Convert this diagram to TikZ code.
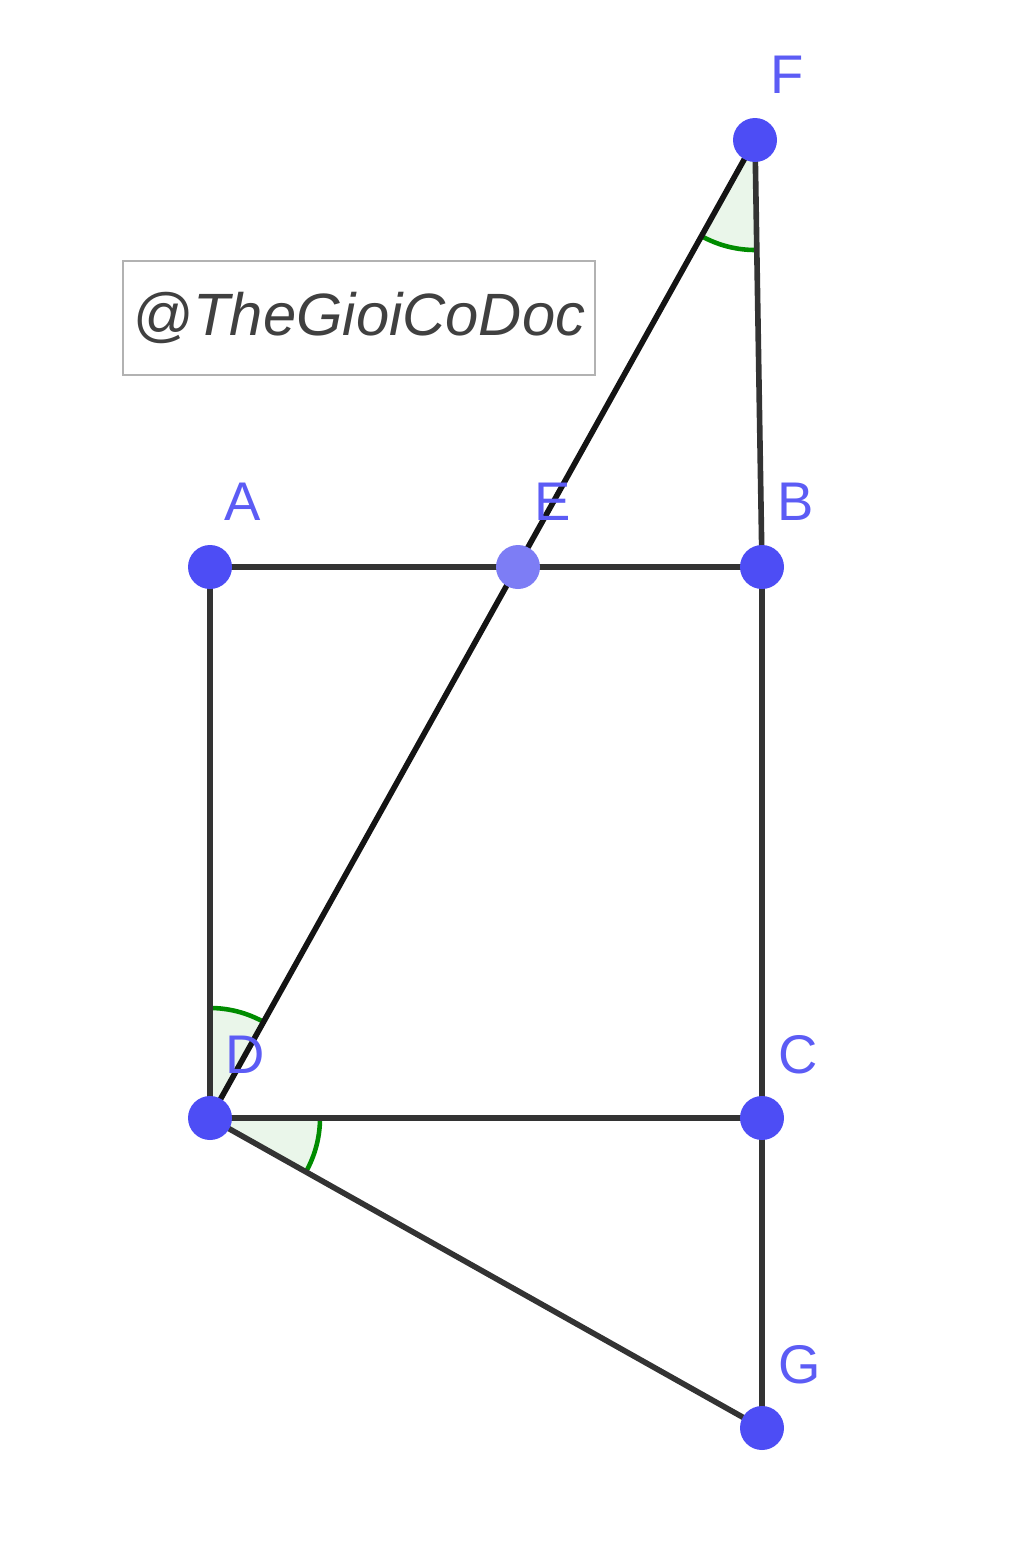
\documentclass[tikz,border=0pt]{standalone}
\usepackage{fontspec}
\setmainfont{Liberation Sans}
\begin{document}
\begin{tikzpicture}[x=0.02cm,y=-0.02cm,
  seg/.style={draw=black!80,line width=3.2pt},
  pt/.style={circle,fill=ptblue,inner sep=0pt,minimum size=0.88cm},
  lbl/.style={text=lblblue,font=\fontsize{31}{31}\selectfont,inner sep=0pt},
  angfill/.style={fill=green!40!gray!12},
  angarc/.style={draw=green!55!black,line width=2.6pt}]
\definecolor{ptblue}{HTML}{4D4DF5}
\definecolor{ptlight}{HTML}{7D7DF5}
\definecolor{lblblue}{HTML}{5C5CF5}
\useasboundingbox (0,0) rectangle (1024,1562);
% coordinates
\coordinate (A) at (210,567);
\coordinate (E) at (518,567);
\coordinate (B) at (762,567);
\coordinate (F) at (755,140);
\coordinate (D) at (210,1118);
\coordinate (C) at (762,1118);
\coordinate (G) at (762,1428);
% angle marks
\fill[angfill] (F) -- ++(119.1:110) arc[start angle=119.1,end angle=89.1,radius=110] -- cycle;
\draw[angarc] (F) ++(119.1:110) arc[start angle=119.1,end angle=89.1,radius=110];
\fill[angfill] (D) -- ++(-90:110) arc[start angle=-90,end angle=-60.9,radius=110] -- cycle;
\draw[angarc] (D) ++(-90:110) arc[start angle=-90,end angle=-60.9,radius=110];
\fill[angfill] (D) -- ++(0:110) arc[start angle=0,end angle=29.3,radius=110] -- cycle;
\draw[angarc] (D) ++(0:110) arc[start angle=0,end angle=29.3,radius=110];
% segments
\draw[seg] (A) -- (B);
\draw[seg] (A) -- (D);
\draw[seg] (D) -- (C);
\draw[seg] (F) -- (B) -- (C) -- (G);
\draw[seg] (D) -- (G);
\draw[seg,draw=black!92] (D) -- (F);
% watermark
\node[draw=black!30,line width=1.5pt,fill=white,minimum width=9.44cm,minimum height=2.28cm,inner sep=0pt,
  font=\itshape\fontsize{34}{34}\selectfont,text=black!75] (wm) at (359,318) {@TheGioiCoDoc};
% points
\node[pt] (pA) at (A) {};
\node[pt,fill=ptlight] (pE) at (E) {};
\node[pt] (pB) at (B) {};
\node[pt] (pF) at (F) {};
\node[pt] (pD) at (D) {};
\node[pt] (pC) at (C) {};
\node[pt] (pG) at (G) {};
% labels
\node[lbl] (lF) at (787,75) {F};
\node[lbl] (lA) at (243,502) {A};
\node[lbl] (lE) at (553,502) {E};
\node[lbl] (lB) at (796,502) {B};
\node[lbl] (lD) at (245,1055) {D};
\node[lbl] (lC) at (798,1055) {C};
\node[lbl] (lG) at (800,1365) {G};
\end{tikzpicture}
\end{document}
